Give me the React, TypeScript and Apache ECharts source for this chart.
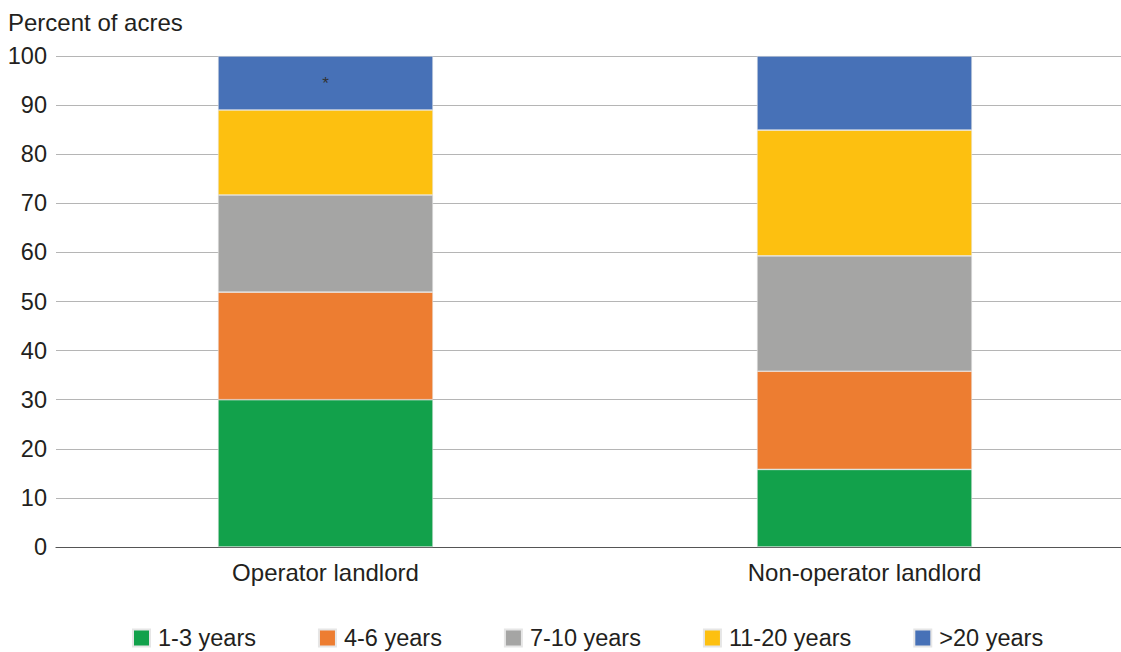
import React, { useEffect, useRef } from "react";
import * as echarts from "echarts";

const categories = ["Operator landlord", "Non-operator landlord"];
const seriesNames = ["1-3 years", "4-6 years", "7-10 years", "11-20 years", ">20 years"];
const oneToThree = [30.0, 15.8];
const fourToSix = [21.9, 20.0];
const sevenToTen = [19.8, 23.5];
const elevenToTwenty = [17.3, 25.6];
const overTwenty = [11.0, 15.1];
const colors = ["#12A14B", "#ED7D31", "#A5A5A4", "#FDC010", "#4771B7"];
const yTicks = [0, 10, 20, 30, 40, 50, 60, 70, 80, 90, 100];

export default function App() {
  const ref = useRef<HTMLDivElement>(null);
  useEffect(() => {
    if (!ref.current) return;
    const chart = echarts.init(ref.current, null, { renderer: "svg" });
    const values = [oneToThree, fourToSix, sevenToTen, elevenToTwenty, overTwenty];
    const font = "'Liberation Sans', Arial, Helvetica, sans-serif";
    chart.setOption({
      animation: false,
      textStyle: { fontFamily: font },
      title: {
        text: "Percent of acres",
        left: 3,
        top: 5,
        textStyle: { fontSize: 24, fontWeight: "normal", color: "#231f20", fontFamily: font },
      },
      legend: {
        top: 621,
        left: 127,
        itemWidth: 17,
        itemHeight: 17,
        itemGap: 62,
        icon: "rect",
        textStyle: { fontSize: 23.5, color: "#231f20", fontFamily: font, padding: [0, 0, 0, 3] },
        data: seriesNames,
      },
      grid: { left: 56, right: 0, top: 56, bottom: 105, containLabel: false },
      xAxis: {
        type: "category",
        data: categories,
        axisLine: { lineStyle: { color: "#555", width: 1.2 } },
        axisTick: { show: false },
        axisLabel: { fontSize: 24, color: "#231f20", margin: 13, fontFamily: font },
      },
      yAxis: {
        type: "value",
        min: yTicks[0],
        max: yTicks[yTicks.length - 1],
        interval: 10,
        axisLine: { show: false },
        axisTick: { show: false },
        splitLine: { lineStyle: { color: "#b5b5b5", width: 1.2 } },
        axisLabel: { fontSize: 23.5, color: "#231f20", margin: 9, fontFamily: font },
      },
      series: seriesNames.map((name, i) => ({
        name,
        type: "bar",
        stack: "total",
        barWidth: "39.9%",
        itemStyle: { color: colors[i], borderColor: "#e6e6e6", borderWidth: 0.6 },
        data: values[i].map((v, j) =>
          i === 4 && j === 0
            ? {
                value: v,
                label: {
                  show: true,
                  position: "inside",
                  formatter: "*",
                  fontSize: 17,
                  color: "#333",
                },
              }
            : v
        ),
      })),
    });
    return () => chart.dispose();
  }, []);
  return (
    <div style={{ width: 1121, height: 652, position: "absolute", left: 0, top: 0, overflow: "hidden", background: "#fff" }}>
      <div ref={ref} style={{ width: 1134, height: 652 }} />
    </div>
  );
}
